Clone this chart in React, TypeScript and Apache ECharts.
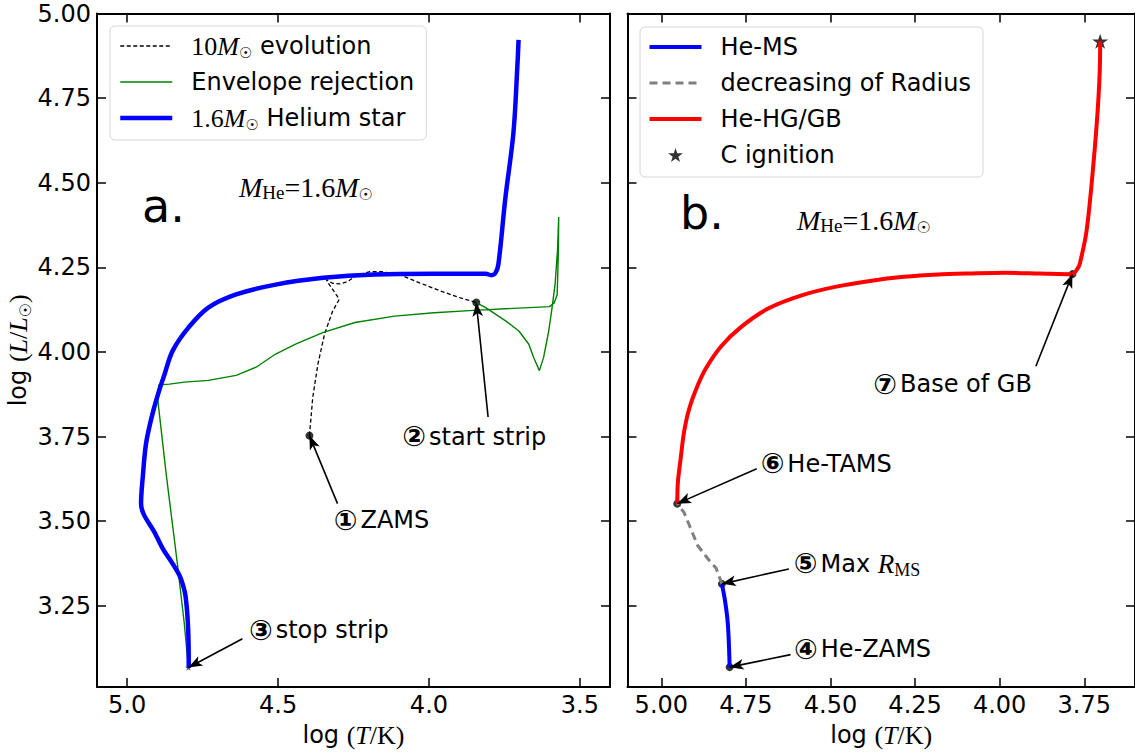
import React, { useEffect, useRef } from 'react';
import * as echarts from 'echarts';

const SANS = 'DejaVu Sans';
const SERIF = 'Liberation Serif';
const STAR = 'path://M50,0L61.2,34.5L97.6,34.5L68.2,55.9L79.4,90.5L50,69.1L20.6,90.5L31.8,55.9L2.4,34.5L38.8,34.5Z';

// ---------- ticks ----------
const xTicksA = [3.5, 4.0, 4.5, 5.0];
const xTicksB = [3.75, 4.0, 4.25, 4.5, 4.75, 5.0];
const yTicks = [3.25, 3.5, 3.75, 4.0, 4.25, 4.5, 4.75, 5.0];

// ---------- panel a ----------
const evolution10 = [
  [4.396, 3.753], [4.385, 3.866], [4.368, 3.964], [4.346, 4.053], [4.319, 4.121], [4.297, 4.156],
  [4.319, 4.185], [4.335, 4.205], [4.340, 4.214], [4.320, 4.203], [4.295, 4.201], [4.270, 4.208],
  [4.240, 4.226], [4.198, 4.237], [4.154, 4.237], [4.099, 4.229], [4.033, 4.205], [3.967, 4.182],
  [3.900, 4.161], [3.843, 4.146],
];
const envelopeRejection = [
  [3.843, 4.146], [3.812, 4.131], [3.746, 4.092], [3.702, 4.062], [3.669, 4.023], [3.653, 3.984],
  [3.634, 3.945], [3.620, 3.984], [3.603, 4.062], [3.592, 4.131], [3.582, 4.200], [3.574, 4.300],
  [3.570, 4.399], [3.571, 4.300], [3.575, 4.170], [3.585, 4.145], [3.600, 4.134], [3.720, 4.129],
  [3.852, 4.123], [3.983, 4.116], [4.114, 4.106], [4.245, 4.087], [4.350, 4.058], [4.442, 4.023],
  [4.508, 3.994], [4.573, 3.955], [4.639, 3.931], [4.731, 3.916], [4.810, 3.911], [4.860, 3.905],
  [4.895, 3.903], [4.900, 3.870], [4.870, 3.634], [4.833, 3.370], [4.811, 3.200], [4.797, 3.068],
];
const heliumStar = [
  [4.796, 3.068], [4.798, 3.183], [4.807, 3.281], [4.822, 3.330], [4.836, 3.355], [4.860, 3.389],
  [4.882, 3.419], [4.904, 3.458], [4.954, 3.553], [4.948, 3.634], [4.937, 3.732], [4.915, 3.821],
  [4.893, 3.889], [4.878, 3.929], [4.849, 4.004], [4.797, 4.072], [4.731, 4.131], [4.639, 4.170],
  [4.508, 4.199], [4.350, 4.219], [4.180, 4.229], [3.983, 4.231], [3.812, 4.231], [3.793, 4.227],
  [3.780, 4.233], [3.770, 4.258], [3.747, 4.453], [3.720, 4.648], [3.707, 4.844], [3.703, 4.922],
];
const pointsA = [[4.396, 3.753], [3.843, 4.146]];
const stopStripPoint = [[4.797, 3.068]];

// ---------- panel b ----------
const heMS = [[4.798, 3.069], [4.801, 3.155], [4.805, 3.214], [4.813, 3.273], [4.821, 3.315]];
const radiusDecrease = [
  [4.821, 3.315], [4.838, 3.361], [4.863, 3.390], [4.893, 3.429], [4.913, 3.478], [4.933, 3.526], [4.953, 3.552],
];
const heHGGB = [
  [4.953, 3.552], [4.951, 3.616], [4.943, 3.684], [4.933, 3.763], [4.918, 3.831], [4.893, 3.900],
  [4.868, 3.952], [4.823, 4.017], [4.763, 4.075], [4.683, 4.129], [4.583, 4.168], [4.483, 4.193],
  [4.383, 4.210], [4.283, 4.222], [4.183, 4.229], [4.083, 4.232], [3.983, 4.234], [3.883, 4.232],
  [3.785, 4.230], [3.770, 4.246], [3.763, 4.261], [3.743, 4.359], [3.723, 4.554], [3.708, 4.750],
  [3.703, 4.896], [3.703, 4.918],
];
const cIgnition = [[3.703, 4.918]];
const pointsB = [[4.798, 3.069], [4.821, 3.315], [4.953, 3.552], [3.785, 4.230]];

// ---------- annotations (data coordinates) ----------
const annotationsA = [
  { label: '{c|①}{t|ZAMS}', tip: [4.396, 3.753], from: [4.303, 3.552], at: [4.317, 3.503] },
  { label: '{c|②}{t|start strip}', tip: [3.843, 4.146], from: [3.804, 3.808], at: [4.090, 3.750] },
  { label: '{c|③}{t|stop strip}', tip: [4.797, 3.068], from: [4.618, 3.153], at: [4.598, 3.178] },
];
const annotationsB = [
  { label: '{c|④}{t|He-ZAMS}', tip: [4.798, 3.069], from: [4.618, 3.106], at: [4.609, 3.122] },
  { label: '{c|⑤}{t|Max }{i|R}{sub|MS}', tip: [4.821, 3.315], from: [4.623, 3.359], at: [4.610, 3.374] },
  { label: '{c|⑥}{t|He-TAMS}', tip: [4.953, 3.552], from: [4.718, 3.655], at: [4.708, 3.670] },
  { label: '{c|⑦}{t|Base of GB}', tip: [3.785, 4.230], from: [3.893, 3.958], at: [4.375, 3.905] },
];

const annRich = {
  c: { fontFamily: SANS, fontSize: 28, fontWeight: 'bold', lineHeight: 30, padding: [0, 3, 0, 0] },
  t: { fontFamily: SANS, fontSize: 24, lineHeight: 30 },
  i: { fontFamily: SERIF, fontStyle: 'italic', fontSize: 27, lineHeight: 30 },
  sub: { fontFamily: SERIF, fontSize: 18, lineHeight: 16, verticalAlign: 'bottom' },
};

const legendRich = {
  p: { padding: [0, 0, 0, 14] },
  sp: { fontFamily: SERIF, fontSize: 26, lineHeight: 28, padding: [0, 0, 0, 14] },
  i: { fontFamily: SERIF, fontStyle: 'italic', fontSize: 26, lineHeight: 28 },
  o: { fontFamily: SANS, fontSize: 15, lineHeight: 14, verticalAlign: 'bottom' },
};

const legendNames: Record<string, string> = {
  '10M☉ evolution': '{sp|10}{i|M}{o|☉} evolution',
  '1.6M☉ Helium star': '{sp|1.6}{i|M}{o|☉} Helium star',
};

const mheRich = {
  i: { fontFamily: SERIF, fontStyle: 'italic', fontSize: 28, lineHeight: 30 },
  n: { fontFamily: SERIF, fontSize: 28, lineHeight: 30 },
  sub: { fontFamily: SERIF, fontSize: 19, lineHeight: 16, verticalAlign: 'bottom' },
  o: { fontFamily: SANS, fontSize: 16, lineHeight: 15, verticalAlign: 'bottom' },
};
const mheText = '{i|M}{sub|He}{n|=1.6}{i|M}{o|☉}';

const nameRich = {
  t: { fontFamily: SANS, fontSize: 24, lineHeight: 30 },
  p: { fontFamily: SERIF, fontSize: 26, lineHeight: 30 },
  i: { fontFamily: SERIF, fontStyle: 'italic', fontSize: 26, lineHeight: 30 },
  o: { fontFamily: SANS, fontSize: 16, lineHeight: 16, verticalAlign: 'bottom' },
};

const lineCol = '#000';

function makeX(gridIndex: number, min: number, max: number, ticks: number[], digits: number, position: string, labels: boolean) {
  return {
    type: 'value', gridIndex, min, max, inverse: true, position,
    axisLine: { show: true, onZero: false, lineStyle: { color: lineCol, width: 2 } },
    axisTick: { show: true, inside: true, length: 9, customValues: ticks, lineStyle: { color: lineCol, width: 1.5 } },
    axisLabel: {
      show: labels, customValues: ticks, margin: 6, color: '#000', fontFamily: SANS, fontSize: 24,
      formatter: (v: number) => v.toFixed(digits),
    },
    splitLine: { show: false },
    ...(labels
      ? {
          name: '{t|log }{p|(}{i|T}{p|/K)}', nameLocation: 'middle', nameGap: 30,
          nameTextStyle: { color: '#000', fontFamily: SANS, fontSize: 24, rich: nameRich },
        }
      : {}),
  };
}

function makeY(gridIndex: number, position: string, labels: boolean, withName: boolean) {
  return {
    type: 'value', gridIndex, min: 3.01, max: 5.0, position,
    axisLine: { show: true, onZero: false, lineStyle: { color: lineCol, width: 2 } },
    axisTick: { show: true, inside: true, length: 9, customValues: yTicks, lineStyle: { color: lineCol, width: 1.5 } },
    axisLabel: {
      show: labels, customValues: yTicks, margin: 6, color: '#000', fontFamily: SANS, fontSize: 24,
      formatter: (v: number) => v.toFixed(2),
    },
    splitLine: { show: false },
    ...(withName
      ? {
          name: '{t|log }{p|(}{i|L}{p|/}{i|L}{o|☉}{p|)}', nameLocation: 'middle', nameGap: 64, nameRotate: 90,
          nameTextStyle: { color: '#000', fontFamily: SANS, fontSize: 24, rich: nameRich },
        }
      : {}),
  };
}

function arrows(list: any[]) {
  return {
    silent: true,
    symbol: ['none', 'arrow'],
    symbolSize: [8, 14],
    label: { show: false },
    emphasis: { disabled: true },
    itemStyle: { color: '#000' },
    lineStyle: { color: '#000', width: 1.6, type: 'solid' },
    data: list.map((a) => [{ coord: a.from }, { coord: a.tip }]),
  };
}

function texts(list: any[]) {
  return {
    silent: true,
    symbol: 'circle',
    symbolSize: 1,
    itemStyle: { color: 'rgba(0,0,0,0)' },
    label: { show: true, position: 'right', distance: 0, color: '#000', fontFamily: SANS, fontSize: 24, rich: annRich },
    data: list.map((a) => ({ coord: a.at, label: { formatter: a.label } })),
  };
}

const legendBase = {
  orient: 'vertical',
  itemGap: 8,
  itemWidth: 52,
  itemHeight: 14,
  borderColor: '#d6d6d6',
  borderWidth: 1,
  borderRadius: 5,
  backgroundColor: 'rgba(255,255,255,0.85)',
  selectedMode: false,
  textStyle: { color: '#000', fontFamily: SANS, fontSize: 24, lineHeight: 28, rich: legendRich },
  formatter: (name: string) => legendNames[name] ?? `{p|${name}}`,
};

const lineItem = (name: string, width: number) => ({ name, itemStyle: { opacity: 0 }, lineStyle: { width } });

const option: any = {
  animation: false,
  backgroundColor: '#fff',
  grid: [
    { left: 97, top: 13.5, width: 513, height: 679.5 },
    { left: 627.5, top: 13.5, width: 512.5, height: 679.5 },
  ],
  xAxis: [
    makeX(0, 3.4, 5.1, xTicksA, 1, 'bottom', true),
    makeX(0, 3.4, 5.1, xTicksA, 1, 'top', false),
    makeX(1, 3.6, 5.1, xTicksB, 2, 'bottom', true),
    makeX(1, 3.6, 5.1, xTicksB, 2, 'top', false),
  ],
  yAxis: [
    makeY(0, 'left', true, true),
    makeY(0, 'right', false, false),
    makeY(1, 'left', false, false),
    makeY(1, 'right', false, false),
  ],
  legend: [
    {
      ...legendBase, left: 110, top: 26, padding: [6, 12, 8, 8],
      data: [lineItem('10M☉ evolution', 1.3), lineItem('Envelope rejection', 1.4), lineItem('1.6M☉ Helium star', 4.5)],
    },
    {
      ...legendBase, left: 640, top: 27, padding: [6, 12, 8, 7.5],
      data: [lineItem('He-MS', 4), lineItem('decreasing of Radius', 3), lineItem('He-HG/GB', 4), { name: 'C ignition' }],
    },
  ],
  graphic: [
    { type: 'text', x: 142, y: 206, style: { text: 'a.', fontFamily: SANS, fontSize: 46, fill: '#000', verticalAlign: 'middle' } },
    { type: 'text', x: 680, y: 213, style: { text: 'b.', fontFamily: SANS, fontSize: 46, fill: '#000', verticalAlign: 'middle' } },
    { type: 'text', x: 239, y: 187, style: { text: mheText, rich: mheRich, fill: '#000', verticalAlign: 'middle' } },
    { type: 'text', x: 797, y: 220, style: { text: mheText, rich: mheRich, fill: '#000', verticalAlign: 'middle' } },
  ],
  series: [
    {
      name: '10M☉ evolution', type: 'line', xAxisIndex: 0, yAxisIndex: 0, data: evolution10,
      symbol: 'none', lineStyle: { color: '#000', width: 1.3, type: [4, 2.5] }, itemStyle: { color: '#000' },
    },
    {
      name: 'Envelope rejection', type: 'line', xAxisIndex: 0, yAxisIndex: 0, data: envelopeRejection,
      symbol: 'none', lineStyle: { color: '#008000', width: 1.4 }, itemStyle: { color: '#008000' },
    },
    {
      name: '1.6M☉ Helium star', type: 'line', xAxisIndex: 0, yAxisIndex: 0, data: heliumStar, smooth: 0.35,
      symbol: 'none', lineStyle: { color: '#0000ff', width: 4.5 }, itemStyle: { color: '#0000ff' },
    },
    {
      name: 'pointsA', type: 'scatter', xAxisIndex: 0, yAxisIndex: 0, data: pointsA, symbolSize: 8,
      itemStyle: { color: '#000' }, silent: true,
      markLine: arrows(annotationsA), markPoint: texts(annotationsA),
    },
    {
      name: 'stopStrip', type: 'scatter', xAxisIndex: 0, yAxisIndex: 0, data: stopStripPoint, symbol: STAR,
      symbolSize: 7, symbolKeepAspect: true, itemStyle: { color: '#333366' }, silent: true,
    },
    {
      name: 'He-MS', type: 'line', xAxisIndex: 2, yAxisIndex: 2, data: heMS, smooth: 0.2,
      symbol: 'none', lineStyle: { color: '#0000ff', width: 4 }, itemStyle: { color: '#0000ff' },
    },
    {
      name: 'decreasing of Radius', type: 'line', xAxisIndex: 2, yAxisIndex: 2, data: radiusDecrease,
      symbol: 'none', lineStyle: { color: '#808080', width: 3, type: [8, 5] }, itemStyle: { color: '#808080' },
    },
    {
      name: 'He-HG/GB', type: 'line', xAxisIndex: 2, yAxisIndex: 2, data: heHGGB, smooth: 0.3,
      symbol: 'none', lineStyle: { color: '#ff0000', width: 4 }, itemStyle: { color: '#ff0000' },
    },
    {
      name: 'pointsB', type: 'scatter', xAxisIndex: 2, yAxisIndex: 2, data: pointsB, symbolSize: 8,
      itemStyle: { color: '#000' }, silent: true,
      markLine: arrows(annotationsB), markPoint: texts(annotationsB),
    },
    {
      name: 'C ignition', type: 'scatter', xAxisIndex: 2, yAxisIndex: 2, data: cIgnition, symbol: STAR,
      symbolSize: 16, symbolKeepAspect: true, itemStyle: { color: '#000' }, silent: true,
    },
  ],
};

export default function App() {
  const ref = useRef<HTMLDivElement>(null);
  useEffect(() => {
    if (!ref.current) return;
    const chart = echarts.init(ref.current, null, { renderer: 'svg' });
    chart.setOption(option);
    return () => chart.dispose();
  }, []);
  return (
    <div
      ref={ref}
      style={{ position: 'absolute', left: 0, top: 0, width: 1135, height: 753, background: '#fff', overflow: 'hidden' }}
    />
  );
}
